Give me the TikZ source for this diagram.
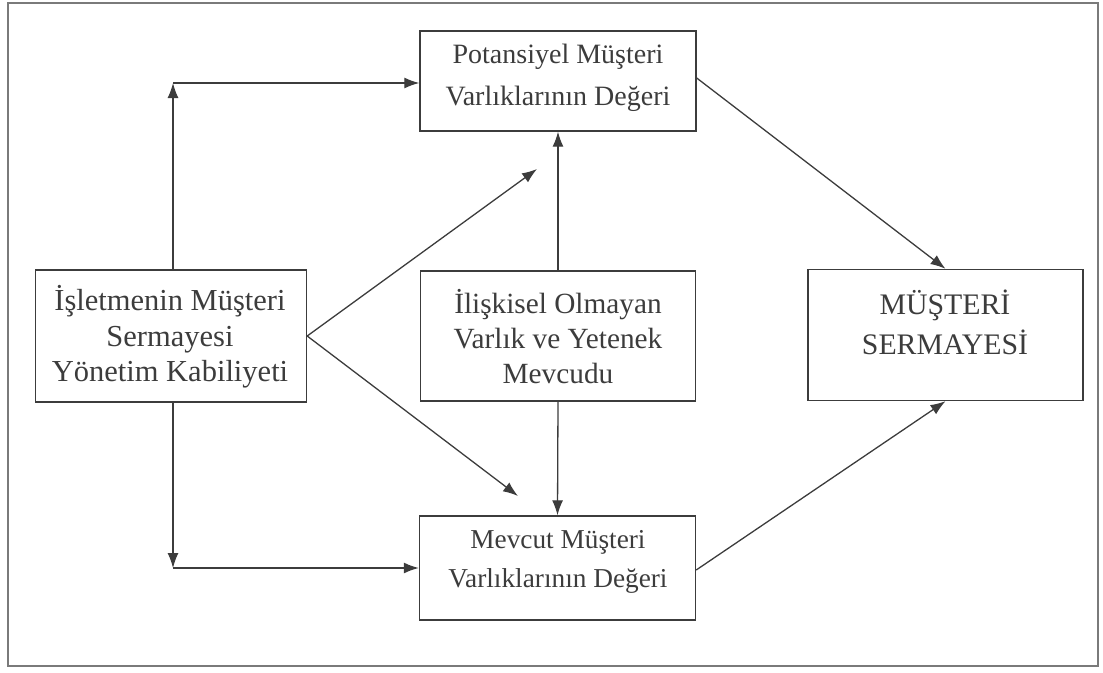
\documentclass[tikz,border=0pt]{standalone}
\usepackage{fontspec}
\setmainfont{Liberation Serif}
\usetikzlibrary{arrows.meta}
\definecolor{ink}{HTML}{3C3C3C}
\definecolor{framecol}{HTML}{7A7A7A}
\tikzset{
  box/.style={draw=ink, line width=1.4pt, minimum width=#1, inner sep=0pt},
  txt/.style={text=ink, align=center, inner sep=0pt},
  conn/.style={draw=ink, line width=1.3pt, -{Latex[length=15pt,width=11pt]}},
}
\begin{document}
\begin{tikzpicture}[x=1pt,y=-1pt]
\useasboundingbox (0,0) rectangle (1103,672);
\draw[framecol, line width=2pt] (8,3) rectangle (1098,666);

% boxes
\node[box=276pt, minimum height=100pt] (T) at (558,81) {};
\node[box=271pt, minimum height=132pt] (L) at (171,336) {};
\node[box=275pt, minimum height=130pt] (M) at (558,336) {};
\node[box=275pt, minimum height=131pt] (R) at (945.5,335) {};
\node[box=276pt, minimum height=104pt] (B) at (557.5,568) {};

% texts
\node[txt, font=\fontsize{28}{42}\selectfont] (Tt) at (558,78) {Potansiyel Müşteri\\Varlıklarının Değeri};
\node[txt, font=\fontsize{30.5}{35.5}\selectfont] (Lt) at (170,337) {İşletmenin Müşteri\\Sermayesi\\Yönetim Kabiliyeti};
\node[txt, font=\fontsize{29.3}{35}\selectfont] (Mt) at (558,337) {İlişkisel Olmayan\\Varlık ve Yetenek\\Mevcudu};
\node[txt, font=\fontsize{29.8}{40}\selectfont] (Rt) at (945,322) {MÜŞTERİ\\SERMAYESİ};
\node[txt, font=\fontsize{27.3}{39}\selectfont] (Bt) at (558,562) {Mevcut Müşteri\\Varlıklarının Değeri};

% free ends / corners
\coordinate (c1) at (173,83);
\coordinate (c2) at (173,568);
\coordinate (a1) at (537,169);
\coordinate (a2) at (518,496);

% connectors
\draw[conn] (L.north -| c1) -- (c1);
\draw[conn] (c1) -- (c1 -| T.west);
\draw[conn] (L.south -| c2) -- (c2);
\draw[conn] (c2) -- (c2 -| B.west);
\draw[conn] (L.east) -- (a1);
\draw[conn] (L.east) -- (a2);
\draw[conn] (M.north) -- (T.south);
\draw[conn] (M.south) -- (B.north);
\draw[conn] ([yshift=3pt]T.east) -- (R.north);
\draw[conn] ([yshift=-2pt]B.east) -- (R.south);
\end{tikzpicture}
\end{document}
